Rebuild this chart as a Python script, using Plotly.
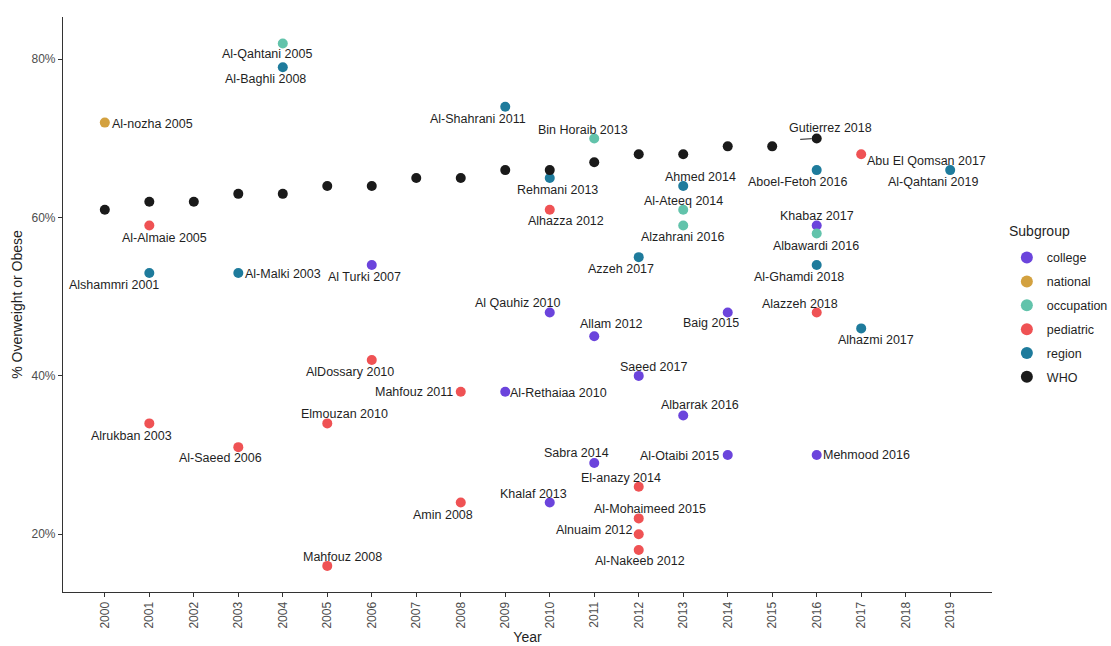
import plotly.graph_objects as go

# Subgroup order and colours
subgroups = ["college", "national", "occupation", "pediatric", "region", "WHO"]
colors = {
    "college": "#6B44DC",
    "national": "#D3A13F",
    "occupation": "#62C3AB",
    "pediatric": "#EF5254",
    "region": "#1E7B9C",
    "WHO": "#1A1A1A",
}

# WHO national estimates
who_years = list(range(2000, 2017))
who_pct = [61, 62, 62, 63, 63, 64, 64, 65, 65, 66, 66, 67, 68, 68, 69, 69, 70]
who_label = "Gutierrez 2018"  # labels the 2016 WHO point

# Individual studies
study = [
    "Al Turki 2007", "Al Qauhiz 2010", "Allam 2012", "Saeed 2017", "Al-Rethaiaa 2010",
    "Albarrak 2016", "Sabra 2014", "Al-Otaibi 2015", "Khalaf 2013", "Baig 2015",
    "Khabaz 2017", "Mehmood 2016",
    "Al-nozha 2005",
    "Al-Qahtani 2005", "Bin Horaib 2013", "Al-Ateeq 2014", "Alzahrani 2016", "Albawardi 2016",
    "Al-Almaie 2005", "AlDossary 2010", "Elmouzan 2010", "Alrukban 2003", "Al-Saeed 2006",
    "Mahfouz 2008", "Mahfouz 2011", "Amin 2008", "Alhazza 2012", "El-anazy 2014",
    "Al-Mohaimeed 2015", "Alnuaim 2012", "Al-Nakeeb 2012", "Abu El Qomsan 2017", "Alazzeh 2018",
    "Al-Baghli 2008", "Alshammri 2001", "Al-Malki 2003", "Al-Shahrani 2011", "Rehmani 2013",
    "Ahmed 2014", "Azzeh 2017", "Aboel-Fetoh 2016", "Al-Qahtani 2019", "Al-Ghamdi 2018",
    "Alhazmi 2017",
]
group = (["college"] * 12 + ["national"] + ["occupation"] * 5
         + ["pediatric"] * 15 + ["region"] * 11)
year = [
    2006, 2010, 2011, 2012, 2009, 2013, 2011, 2014, 2010, 2014, 2016, 2016,
    2000,
    2004, 2011, 2013, 2013, 2016,
    2001, 2006, 2005, 2001, 2003, 2005, 2008, 2008, 2010, 2012, 2012, 2012, 2012, 2017, 2016,
    2004, 2001, 2003, 2009, 2010, 2013, 2012, 2016, 2019, 2016, 2017,
]
pct = [
    54, 48, 45, 40, 38, 35, 29, 30, 24, 48, 59, 30,
    72,
    82, 70, 61, 59, 58,
    59, 42, 34, 34, 31, 16, 38, 24, 61, 26, 22, 20, 18, 68, 48,
    79, 53, 53, 74, 65, 64, 55, 66, 66, 54, 46,
]

# Axis ticks
year_ticks = list(range(2000, 2020))
pct_ticks = [20, 40, 60, 80]
pct_tick_text = ["20%", "40%", "60%", "80%"]

# Label placement relative to each point: (anchor, dx px, dy px downward)
label_pos = {
    "Al-Qahtani 2005": ("c", -16, 11), "Al-Baghli 2008": ("c", -17, 12),
    "Al-nozha 2005": ("l", 5, 1), "Al-Almaie 2005": ("c", 15, 12),
    "Alshammri 2001": ("c", -35, 12), "Al-Malki 2003": ("l", 5, 1),
    "Al Turki 2007": ("c", -7, 12), "Al-Shahrani 2011": ("c", -27, 12),
    "Bin Horaib 2013": ("c", -11, -8), "Rehmani 2013": ("c", 8, 12),
    "Alhazza 2012": ("c", 16, 11), "Ahmed 2014": ("c", 17, -9),
    "Al-Ateeq 2014": ("c", 0, -9), "Alzahrani 2016": ("c", -1, 11),
    "Azzeh 2017": ("c", -18, 12), "Al Qauhiz 2010": ("c", -32, -10),
    "Allam 2012": ("c", 17, -12), "Baig 2015": ("c", -17, 10),
    "Gutierrez 2018": ("c", 14, -10), "Abu El Qomsan 2017": ("l", 4, 7),
    "Aboel-Fetoh 2016": ("c", -19, 12), "Al-Qahtani 2019": ("c", -17, 12),
    "Khabaz 2017": ("c", 0, -10), "Albawardi 2016": ("c", -1, 13),
    "Al-Ghamdi 2018": ("c", -18, 12), "Alazzeh 2018": ("c", -17, -9),
    "AlDossary 2010": ("c", -22, 12), "Elmouzan 2010": ("c", 17, -9),
    "Alrukban 2003": ("c", -18, 13), "Al-Saeed 2006": ("c", -18, 11),
    "Mahfouz 2008": ("c", 15, -9), "Mahfouz 2011": ("r", -6, 0),
    "Al-Rethaiaa 2010": ("l", 3, 1), "Saeed 2017": ("c", 15, -9),
    "Albarrak 2016": ("c", 17, -10), "Sabra 2014": ("c", -18, -10),
    "Al-Otaibi 2015": ("r", -7, 1), "El-anazy 2014": ("c", -18, -9),
    "Khalaf 2013": ("c", -16, -9), "Amin 2008": ("c", -18, 12),
    "Al-Mohaimeed 2015": ("c", 11, -9), "Alnuaim 2012": ("r", -5, -4),
    "Al-Nakeeb 2012": ("c", 1, 11), "Alhazmi 2017": ("c", 15, 12),
    "Mehmood 2016": ("l", 4, 0),
}

FONT = "Liberation Sans, Arial, sans-serif"
TEXT = "#1F1F1F"
GREY = "#4D4D4D"
AXIS = "#333333"

fig = go.Figure()

for g in subgroups:
    if g == "WHO":
        xs, ys = who_years, who_pct
    else:
        idx = [i for i, s in enumerate(group) if s == g]
        xs = [year[i] for i in idx]
        ys = [pct[i] for i in idx]
    fig.add_trace(go.Scatter(
        x=xs, y=ys, mode="markers", name=g, legendgroup=g,
        marker=dict(color=colors[g], size=10, line=dict(width=0)),
    ))

anchor_map = {"c": "center", "l": "left", "r": "right"}
labels = list(zip(study, year, pct)) + [(who_label, who_years[-1], who_pct[-1])]
for name, x, y in labels:
    a, dx, dy = label_pos[name]
    fig.add_annotation(
        x=x, y=y, xref="x", yref="y", text=name, showarrow=False,
        xanchor=anchor_map[a], yanchor="middle", xshift=dx, yshift=-dy,
        font=dict(family=FONT, size=12.5, color=TEXT),
    )

# short repel segment for the WHO label
fig.add_annotation(
    x=who_years[-1], y=who_pct[-1], xref="x", yref="y", text="",
    showarrow=True, arrowhead=0, arrowwidth=1, arrowcolor=TEXT,
    ax=-18, ay=1, standoff=5,
)

# legend heading
fig.add_annotation(
    x=1.0165, y=0.627, xref="paper", yref="paper", text="Subgroup",
    showarrow=False, xanchor="left", yanchor="middle",
    font=dict(family=FONT, size=14, color=TEXT),
)

fig.update_layout(
    width=1111, height=646,
    margin=dict(l=63, r=119, t=17, b=54, autoexpand=False),
    paper_bgcolor="white", plot_bgcolor="white",
    font=dict(family=FONT, color=TEXT),
    showlegend=True,
    legend=dict(
        font=dict(family=FONT, size=12.5, color=TEXT),
        x=1.016, xanchor="left", y=0.607, yanchor="top",
        tracegroupgap=4.6, itemsizing="constant", bgcolor="rgba(0,0,0,0)",
    ),
    xaxis=dict(
        range=[1999.06, 2019.94], tickmode="array", tickvals=year_ticks,
        ticktext=[str(v) for v in year_ticks], tickangle=-90,
        showgrid=False, zeroline=False, showline=True, linecolor=AXIS, linewidth=1.2,
        ticks="outside", ticklen=4, tickcolor=AXIS, tickwidth=1,
        tickfont=dict(family=FONT, size=12, color=GREY),
        title=dict(text="Year", font=dict(family=FONT, size=14, color=TEXT), standoff=4),
    ),
    yaxis=dict(
        range=[12.7, 85.34], tickmode="array", tickvals=pct_ticks, ticktext=pct_tick_text,
        showgrid=False, zeroline=False, showline=True, linecolor=AXIS, linewidth=1.2,
        ticks="outside", ticklen=4, tickcolor=AXIS, tickwidth=1,
        tickfont=dict(family=FONT, size=12, color=GREY),
        title=dict(text="% Overweight or Obese", font=dict(family=FONT, size=14, color=TEXT), standoff=5),
    ),
)

fig.write_html("out.html")
